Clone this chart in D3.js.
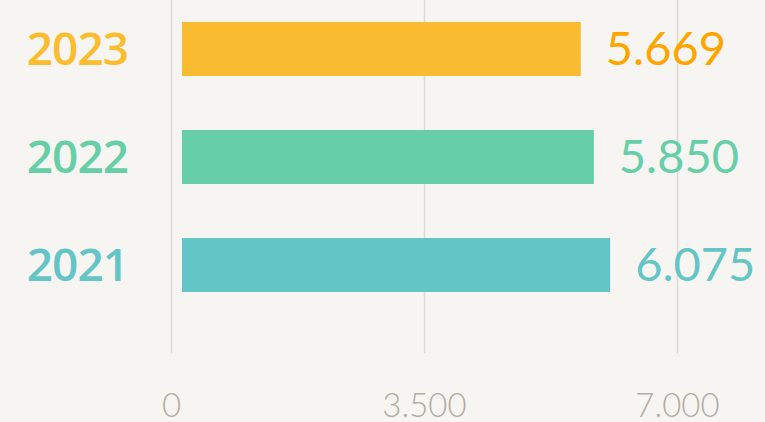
<!DOCTYPE html>
<html lang="en">

<head>
    <meta charset="UTF-8" />
    <title>Bars by year</title>
    <script src="https://d3js.org/d3.v7.min.js"></script>
    <style>
        html, body {
            margin: 0;
            padding: 0;
            background: #f7f5f1;
        }

        svg {
            display: block;
        }
    </style>
</head>

<body>
    <div id="chart"></div>

    <script>
        const years = ["2023", "2022", "2021"];
        const values = [5669, 5850, 6075];
        const colors = ["#f9bc30", "#66cfa8", "#64c5c7"];
        const valueColors = ["#ffa500", "#66cfa8", "#64c5c7"];
        const yearColors = ["#fbbc2e", "#66cfa8", "#64c5c7"];
        const ticks = [0, 3500, 7000];
        const tickLabels = ["0", "3.500", "7.000"];

        const width = 765;
        const height = 422;

        const svg = d3.select("#chart")
            .append("svg")
            .attr("width", width)
            .attr("height", height);

        svg.append("rect")
            .attr("width", width)
            .attr("height", height)
            .attr("fill", "#f7f5f1");

        const x = d3.scaleLinear().domain([0, 7000]).range([171, 677]);
        const y = d3.scaleBand().domain(years).range([-32, 346]).padding(0.5);

        const fmt = v => d3.format(",")(v).replace(/,/g, ".");

        // Grid lines
        svg.append("g")
            .selectAll("line")
            .data(ticks)
            .join("line")
            .attr("x1", d => x(d) + 0.5)
            .attr("x2", d => x(d) + 0.5)
            .attr("y1", 0)
            .attr("y2", 353)
            .attr("stroke", "#dedad5")
            .attr("stroke-width", 1.5);

        // Tick labels
        svg.append("g")
            .selectAll("text")
            .data(ticks)
            .join("text")
            .attr("x", d => x(d) + 0.5)
            .attr("y", 417)
            .attr("text-anchor", "middle")
            .attr("font-family", "Lato, sans-serif")
            .attr("font-weight", 300)
            .attr("font-size", 33)
            .attr("fill", "#b3aba2")
            .text((d, i) => tickLabels[i]);

        // Bars
        svg.append("g")
            .selectAll("rect")
            .data(values)
            .join("rect")
            .attr("x", x(0) + 11)
            .attr("y", (d, i) => y(years[i]))
            .attr("width", d => x(d) - x(0) - 11)
            .attr("height", y.bandwidth())
            .attr("fill", (d, i) => colors[i]);

        // Year labels
        svg.append("g")
            .selectAll("text")
            .data(years)
            .join("text")
            .attr("x", 128)
            .attr("y", d => y(d) + y.bandwidth() / 2 + 16)
            .attr("text-anchor", "end")
            .attr("font-family", "'Open Sans', sans-serif")
            .attr("font-weight", 600)
            .attr("font-size", 46)
            .attr("letter-spacing", -1)
            .attr("fill", (d, i) => yearColors[i])
            .text(d => d);

        // Value labels
        svg.append("g")
            .selectAll("text")
            .data(values)
            .join("text")
            .attr("x", d => x(d) + 25)
            .attr("y", (d, i) => y(years[i]) + y.bandwidth() / 2 + 16)
            .attr("font-family", "Lato, sans-serif")
            .attr("font-weight", 400)
            .attr("font-size", 47)
            .attr("fill", (d, i) => valueColors[i])
            .text(d => fmt(d));
    </script>

</body>

</html>
